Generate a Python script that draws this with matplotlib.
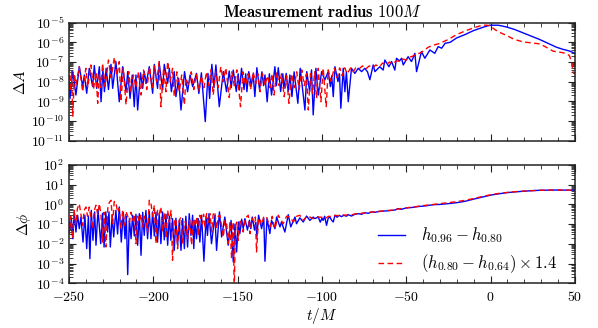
import numpy as np
import matplotlib
matplotlib.use("Agg")
import matplotlib.pyplot as plt
from matplotlib.ticker import FixedLocator, FixedFormatter, LogLocator, MultipleLocator

plt.rcParams['mathtext.fontset'] = 'cm'

# ---------------- data (t/M, log10 value) ----------------
dA_blue = [(-250.0,-8.0),(-249.4,-8.85),(-247.8,-7.49),(-245.9,-8.68),(-243.9,-7.24),(-241.9,-8.25),(-240.9,-7.66),(-239.5,-8.59),(-238.0,-7.32),(-236.0,-8.25),(-235.0,-7.18),(-233.6,-8.34),(-232.0,-7.24),(-231.0,-9.02),(-229.9,-7.40),(-229.0,-8.51),(-228.0,-7.32),(-226.6,-8.40),(-225.1,-7.12),(-224.1,-8.34),(-222.2,-6.98),(-220.2,-9.02),(-218.2,-7.24),(-216.2,-8.51),(-215.2,-7.49),(-213.8,-8.85),(-212.5,-7.66),(-211.3,-9.27),(-210.3,-7.66),(-209.3,-9.44),(-207.6,-7.55),(-206.3,-8.34),(-205.4,-7.49),(-204.2,-8.08),(-202.4,-7.24),(-200.4,-8.59),(-199.4,-7.12),(-197.5,-8.34),(-196.5,-7.07),(-194.5,-8.42),(-193.5,-7.12),(-191.5,-8.08),(-190.5,-7.32),(-189.3,-8.51),(-187.6,-7.49),(-186.6,-8.76),(-185.0,-7.83),(-183.6,-9.44),(-181.5,-7.49),(-179.7,-8.51),(-178.2,-7.66),(-176.7,-8.25),(-174.4,-7.58),(-173.0,-8.6),(-171.5,-7.55),(-169.2,-10.03),(-167.6,-7.58),(-166.6,-8.85),(-165.3,-7.12),(-164.0,-8.3),(-162.9,-7.15),(-160.9,-9.27),(-158.5,-7.49),(-156.6,-8.51),(-155.0,-7.46),(-153.8,-8.3),(-152.6,-7.41),(-150.8,-8.5),(-149.7,-7.6),(-148.9,-8.42),(-147.7,-7.32),(-146.2,-8.4),(-145.2,-7.6),(-144.5,-8.51),(-143.4,-7.49),(-141.9,-8.2),(-140.8,-7.6),(-139.8,-8.76),(-138.6,-7.29),(-137.0,-8.4),(-135.6,-7.5),(-134.6,-8.2),(-133.8,-7.66),(-132.5,-9.02),(-131.2,-7.6),(-129.9,-8.68),(-127.9,-7.24),(-127.0,-8.2),(-125.9,-7.29),(-124.5,-8.5),(-123.2,-7.6),(-122.6,-8.34),(-121.2,-7.58),(-120.0,-8.5),(-119.0,-7.66),(-117.8,-8.76),(-116.5,-7.5),(-114.3,-9.10),(-112.9,-7.32),(-110.1,-9.44),(-109.0,-7.49),(-107.3,-8.5),(-106.2,-7.4),(-105.2,-9.69),(-103.6,-7.32),(-102.2,-8.68),(-100.2,-7.49),(-98.3,-7.91),(-96.3,-7.49),(-95.0,-8.25),(-94.2,-7.7),(-93.3,-8.76),(-92.3,-7.24),(-90.5,-8.0),(-89.6,-7.6),(-88.8,-9.35),(-87.4,-7.32),(-86.4,-8.51),(-85.5,-7.5),(-84.4,-9.02),(-82.5,-7.32),(-80.5,-7.58),(-78.5,-7.32),(-76.5,-7.49),(-74.6,-7.32),(-73.0,-7.5),(-71.6,-7.9),(-69.6,-7.15),(-68.6,-7.49),(-65.7,-7.24),(-63.7,-7.41),(-62.7,-6.9),(-60.3,-7.24),(-58.7,-6.98),(-56.8,-7.41),(-55.8,-6.81),(-54.0,-6.95),(-52.8,-6.81),(-51.8,-7.15),(-48.9,-6.73),(-46.9,-6.98),(-44.9,-6.56),(-43.9,-7.49),(-41.0,-6.47),(-39.0,-6.81),(-36.0,-6.39),(-33.1,-6.56),(-31.1,-6.22),(-29.0,-6.3),(-27.0,-6.05),(-24.0,-6.0),(-20.2,-5.78),(-15.0,-5.6),(-10.3,-5.41),(-5.0,-5.25),(-0.5,-5.13),(4.5,-5.13),(9.4,-5.22),(14.3,-5.35),(19.3,-5.52),(24.2,-5.69),(29.2,-5.86),(34.1,-6.05),(39.1,-6.25),(43.0,-6.36),(45.0,-6.40),(47.0,-6.45),(50.0,-6.56)]

dA_red = [(-250.0,-7.2),(-249.3,-8.5),(-248.5,-7.5),(-247.8,-9.78),(-246.8,-7.6),(-245.9,-8.17),(-243.9,-7.24),(-241.9,-8.51),(-240.0,-7.32),(-238.9,-8.3),(-237.0,-7.15),(-235.5,-8.4),(-234.0,-7.5),(-233.0,-9.10),(-232.0,-7.6),(-231.0,-8.3),(-230.1,-7.07),(-228.6,-8.25),(-226.6,-6.90),(-225.0,-7.8),(-223.1,-6.76),(-221.6,-7.7),(-220.2,-6.98),(-219.2,-9.02),(-217.8,-7.3),(-216.2,-9.18),(-214.6,-7.49),(-213.3,-8.51),(-211.8,-7.66),(-210.3,-8.3),(-208.8,-7.5),(-207.3,-8.68),(-205.8,-7.41),(-203.9,-8.4),(-202.2,-7.24),(-200.8,-8.3),(-199.4,-7.2),(-198.0,-8.0),(-196.5,-6.98),(-195.5,-9.27),(-193.9,-7.3),(-192.5,-8.51),(-191.5,-6.98),(-190.0,-8.0),(-188.6,-7.32),(-187.6,-8.76),(-186.0,-7.5),(-184.6,-8.51),(-183.2,-7.66),(-181.6,-9.18),(-180.7,-7.83),(-179.0,-8.2),(-177.5,-7.5),(-176.0,-8.4),(-174.5,-7.6),(-173.0,-8.5),(-171.5,-7.7),(-170.0,-8.3),(-168.5,-7.5),(-167.0,-8.2),(-165.8,-7.4),(-164.5,-8.68),(-163.0,-7.5),(-161.5,-8.3),(-160.0,-7.24),(-158.5,-8.0),(-157.0,-7.3),(-155.0,-8.8),(-153.5,-7.5),(-152.0,-8.2),(-150.5,-7.4),(-148.3,-9.27),(-146.8,-7.5),(-145.3,-8.2),(-143.8,-7.6),(-142.3,-8.4),(-140.8,-7.5),(-139.3,-8.1),(-138.0,-7.6),(-136.8,-8.51),(-135.3,-7.6),(-133.8,-8.2),(-132.3,-7.7),(-130.8,-8.3),(-129.5,-7.6),(-128.4,-8.68),(-126.9,-7.5),(-125.4,-8.2),(-124.0,-7.6),(-122.4,-8.76),(-121.0,-7.7),(-119.6,-9.10),(-118.0,-7.6),(-116.5,-8.3),(-115.0,-7.5),(-113.5,-8.4),(-112.0,-7.4),(-110.5,-8.2),(-109.2,-7.6),(-108.1,-9.44),(-106.8,-7.6),(-105.6,-8.6),(-104.3,-7.5),(-103.2,-8.85),(-102.2,-7.32),(-100.6,-9.02),(-99.3,-7.32),(-97.5,-9.27),(-96.3,-7.4),(-94.5,-8.0),(-92.8,-7.3),(-91.0,-7.8),(-89.5,-7.3),(-88.0,-7.7),(-86.5,-7.3),(-85.0,-7.6),(-83.0,-7.3),(-81.5,-7.5),(-80.0,-7.3),(-78.0,-7.35),(-76.0,-7.2),(-74.0,-7.35),(-72.0,-7.2),(-70.0,-7.3),(-68.0,-7.15),(-66.0,-7.25),(-64.0,-7.05),(-62.0,-7.15),(-60.0,-7.0),(-58.0,-7.1),(-56.0,-6.95),(-54.0,-6.95),(-52.0,-6.85),(-50.0,-6.9),(-48.0,-6.75),(-46.0,-6.7),(-44.0,-6.6),(-42.0,-6.55),(-40.0,-6.45),(-37.0,-6.25),(-34.0,-6.15),(-30.0,-6.05),(-25.0,-5.85),(-20.2,-5.61),(-15.0,-5.42),(-10.3,-5.27),(-6.0,-5.16),(-4.5,-5.13),(-2.0,-5.13),(0.0,-5.18),(2.5,-5.35),(5.0,-5.48),(9.4,-5.65),(14.0,-5.85),(19.3,-5.98),(24.0,-6.03),(29.2,-6.08),(33.0,-6.25),(37.1,-6.45),(43.0,-6.53),(46.6,-6.66),(48.0,-6.96),(49.0,-7.56),(50.0,-7.6)]

dphi_blue = [(-250.0,-0.9),(-249.3,-1.23),(-248.6,-0.72),(-247.8,-1.74),(-246.9,-0.38),(-245.9,-1.40),(-244.9,-0.55),(-243.9,-1.23),(-242.9,-0.64),(-241.7,-1.91),(-240.6,-0.55),(-239.5,-2.24),(-238.5,-0.60),(-237.6,-2.75),(-236.8,-0.30),(-235.8,-1.82),(-234.8,-0.38),(-234.0,-2.07),(-232.8,-0.25),(-231.2,-1.99),(-230.1,-0.45),(-229.2,-2.16),(-228.2,-0.38),(-227.1,-1.40),(-226.3,-0.38),(-225.5,-2.16),(-224.4,-0.55),(-223.5,-1.65),(-222.2,-0.30),(-221.2,-1.5),(-220.2,-0.13),(-219.0,-1.91),(-217.8,-0.4),(-216.8,-1.74),(-216.0,-0.6),(-215.2,-3.56),(-214.2,-0.72),(-213.2,-1.74),(-212.3,-0.55),(-211.3,-1.6),(-210.3,-0.5),(-209.3,-2.07),(-208.3,-0.47),(-207.3,-2.58),(-206.3,-0.4),(-205.4,-1.57),(-204.4,-0.30),(-203.4,-1.74),(-202.4,-0.35),(-201.4,-1.74),(-200.4,-0.38),(-199.4,-1.6),(-198.4,-0.4),(-197.5,-1.91),(-196.5,-0.47),(-195.5,-1.99),(-194.5,-0.38),(-193.5,-1.8),(-192.5,-0.5),(-191.5,-2.07),(-190.5,-0.6),(-189.6,-1.82),(-188.6,-0.72),(-187.6,-2.33),(-186.6,-0.7),(-185.6,-2.07),(-184.6,-0.81),(-183.6,-2.33),(-182.6,-0.72),(-181.6,-2.24),(-180.7,-0.6),(-179.7,-2.16),(-178.7,-0.47),(-177.7,-1.57),(-176.7,-0.55),(-176.0,-2.24),(-175.3,-0.8),(-174.4,-1.74),(-173.4,-0.72),(-172.4,-1.91),(-171.4,-0.55),(-170.0,-2.88),(-168.7,-0.6),(-167.9,-1.57),(-167.0,-0.47),(-165.5,-1.99),(-163.5,-0.55),(-162.5,-2.33),(-160.8,-0.38),(-159.5,-1.65),(-157.6,-0.64),(-155.6,-2.07),(-153.9,-0.81),(-152.6,-2.92),(-151.6,-1.0),(-150.6,-2.41),(-149.6,-0.89),(-148.7,-1.48),(-147.6,-0.75),(-146.7,-1.23),(-145.7,-0.72),(-144.2,-1.3),(-143.0,-0.8),(-142.2,-1.23),(-141.3,-0.64),(-140.0,-1.3),(-139.2,-0.9),(-138.6,-1.65),(-137.6,-0.55),(-135.8,-1.23),(-134.5,-0.7),(-133.8,-2.88),(-132.6,-0.72),(-130.9,-1.48),(-129.9,-0.81),(-127.9,-1.23),(-126.9,-0.64),(-124.9,-1.14),(-124.0,-0.89),(-122.0,-1.40),(-120.0,-0.52),(-118.5,-1.14),(-116.0,-0.64),(-115.1,-0.98),(-113.1,-0.68),(-111.1,-0.89),(-109.1,-0.59),(-107.2,-0.81),(-105.2,-0.64),(-104.2,-0.72),(-102.2,-0.64),(-101.0,-0.9),(-100.0,-0.7),(-99.3,-0.81),(-98.4,-0.6),(-97.3,-1.06),(-96.3,-0.7),(-95.3,-0.64),(-94.3,-0.8),(-93.3,-0.89),(-92.3,-0.55),(-91.0,-0.65),(-89.8,-0.55),(-88.4,-0.62),(-87.0,-0.55),(-85.5,-0.6),(-84.4,-0.52),(-82.5,-0.59),(-80.5,-0.5),(-78.5,-0.47),(-76.5,-0.5),(-74.6,-0.42),(-72.5,-0.45),(-70.6,-0.38),(-68.5,-0.4),(-66.5,-0.36),(-64.7,-0.35),(-62.5,-0.33),(-60.5,-0.32),(-58.7,-0.30),(-56.5,-0.28),(-54.8,-0.21),(-53.0,-0.25),(-51.0,-0.2),(-48.9,-0.17),(-47.0,-0.16),(-44.9,-0.13),(-42.0,-0.1),(-39.0,-0.08),(-36.0,-0.04),(-33.1,-0.01),(-30.0,0.0),(-25.0,0.04),(-20.0,0.09),(-15.0,0.16),(-10.0,0.27),(-5.0,0.37),(0.0,0.47),(5.0,0.54),(10.0,0.6),(15.0,0.64),(20.0,0.67),(25.0,0.7),(30.0,0.72),(40.0,0.73),(50.0,0.72)]

dphi_red = [(-250.0,-0.8),(-249.8,-1.48),(-249.0,-0.6),(-247.8,-1.74),(-247.0,-0.3),(-246.0,-1.0),(-245.0,-0.2),(-243.9,0.03),(-242.9,-0.5),(-241.9,-1.06),(-241.0,-0.3),(-240.0,-0.13),(-239.0,-0.6),(-238.0,-0.13),(-237.0,-0.7),(-236.0,-1.23),(-235.0,-0.3),(-234.0,-0.04),(-233.0,-0.5),(-232.0,0.04),(-231.0,-0.6),(-230.1,-1.91),(-229.2,-0.4),(-228.1,-2.16),(-227.0,-0.2),(-226.1,0.1),(-225.1,0.21),(-224.1,-0.98),(-223.2,0.15),(-222.2,0.12),(-221.2,-0.4),(-220.2,-0.2),(-219.2,-1.23),(-218.2,-0.3),(-217.2,-1.06),(-216.2,-0.35),(-215.2,-0.6),(-214.2,-0.89),(-213.2,-0.4),(-212.2,-0.8),(-211.2,-0.5),(-210.3,-1.99),(-209.3,-0.6),(-208.3,-0.9),(-207.3,-0.5),(-206.3,-1.14),(-205.3,-0.6),(-204.4,-0.9),(-203.4,-1.40),(-202.4,0.21),(-201.4,0.05),(-200.4,-0.6),(-199.4,-0.04),(-198.4,-1.99),(-197.5,-0.3),(-196.5,-0.5),(-195.5,-0.13),(-194.5,-1.40),(-193.5,-0.4),(-192.5,-1.74),(-191.5,-0.30),(-190.5,-0.9),(-189.5,-0.30),(-188.6,-2.83),(-187.6,-0.9),(-186.6,-0.72),(-185.6,-2.24),(-184.6,-0.8),(-183.6,-0.64),(-182.6,-1.99),(-181.6,-0.9),(-180.7,-0.89),(-179.7,-1.74),(-178.5,-0.8),(-177.3,-2.07),(-176.3,-0.72),(-174.9,-1.1),(-174.0,-0.6),(-173.4,-1.57),(-172.4,-0.55),(-171.0,-1.0),(-170.2,-0.5),(-169.4,-1.23),(-168.4,-0.47),(-167.4,-0.9),(-166.4,-0.47),(-165.4,-1.40),(-164.5,-0.5),(-163.5,-0.38),(-162.5,-1.23),(-161.5,-0.6),(-160.5,-0.55),(-159.5,-1.1),(-158.5,-1.65),(-157.5,-0.8),(-156.5,-1.0),(-155.6,-1.99),(-154.6,-0.9),(-153.6,-2.75),(-152.6,-0.89),(-152.0,-4.5),(-151.4,-1.2),(-150.6,-0.9),(-149.6,-1.82),(-148.7,-0.76),(-147.7,-1.0),(-146.7,-1.40),(-145.5,-0.7),(-143.7,-0.55),(-142.7,-1.48),(-141.5,-0.7),(-140.3,-0.9),(-139.5,-0.64),(-138.8,-2.41),(-137.6,-0.7),(-136.5,-0.8),(-135.8,-1.06),(-134.5,-0.6),(-132.8,-0.64),(-130.9,-1.14),(-129.5,-0.6),(-127.9,-1.23),(-125.9,-0.55),(-123.0,-0.98),(-121.0,-0.6),(-119.0,-0.64),(-117.0,-0.89),(-115.0,-0.6),(-113.1,-0.55),(-111.1,-0.81),(-109.0,-0.6),(-107.2,-0.64),(-105.2,-0.72),(-103.5,-0.6),(-102.2,-0.64),(-100.0,-0.65),(-98.0,-0.7),(-96.0,-0.6),(-94.0,-0.62),(-92.0,-0.55),(-90.0,-0.58),(-88.0,-0.52),(-86.0,-0.55),(-84.0,-0.5),(-82.0,-0.52),(-80.0,-0.47),(-78.0,-0.48),(-76.0,-0.44),(-74.0,-0.43),(-72.0,-0.4),(-70.0,-0.38),(-68.0,-0.38),(-66.0,-0.35),(-64.0,-0.33),(-62.0,-0.32),(-60.0,-0.30),(-58.0,-0.29),(-56.0,-0.25),(-54.0,-0.22),(-52.0,-0.2),(-50.0,-0.18),(-48.0,-0.15),(-46.0,-0.13),(-44.0,-0.11),(-42.0,-0.08),(-40.0,-0.06),(-37.0,-0.03),(-34.0,0.0),(-31.0,0.03),(-28.0,0.06),(-25.0,0.09),(-20.0,0.14),(-15.0,0.21),(-10.0,0.3),(-5.0,0.4),(0.0,0.49),(5.0,0.56),(10.0,0.61),(15.0,0.65),(20.0,0.68),(25.0,0.7),(30.0,0.72),(40.0,0.73),(50.0,0.72)]

x_ticks = [-250, -200, -150, -100, -50, 0, 50]
x_tick_labels = [r'$-250$', r'$-200$', r'$-150$', r'$-100$', r'$-50$', r'$0$', r'$50$']
top_exps = [-11, -10, -9, -8, -7, -6, -5]
bot_exps = [-4, -3, -2, -1, 0, 1, 2]
legend_labels = [r'$h_{0.96} - h_{0.80}$', r'$(h_{0.80} - h_{0.64}) \times 1.4$']
title = r'$\mathbf{Measurement\ radius}\ 100M$'


def series(pairs):
    a = np.array(pairs, dtype=float)
    return a[:, 0], 10.0 ** a[:, 1]


fig = plt.figure(figsize=(5.98, 3.28), dpi=100)
ax1 = fig.add_axes([0.1154, 0.571, 0.846, 0.36])
ax2 = fig.add_axes([0.1154, 0.1363, 0.846, 0.3607])

BLUE = '#0000ff'
RED = '#ff0000'
LW = 1.0

for ax, blue, red, exps in ((ax1, dA_blue, dA_red, top_exps),
                            (ax2, dphi_blue, dphi_red, bot_exps)):
    tb, vb = series(blue)
    tr, vr = series(red)
    ax.plot(tb, vb, color=BLUE, lw=LW, ls='-', label=legend_labels[0])
    ax.plot(tr, vr, color=RED, lw=LW, ls='--', dashes=(4, 2.5), label=legend_labels[1])
    ax.set_yscale('log')
    ax.set_xlim(-250, 50)
    ax.set_ylim(10.0 ** exps[0], 10.0 ** exps[-1])
    ax.yaxis.set_major_locator(FixedLocator([10.0 ** e for e in exps]))
    ax.yaxis.set_major_formatter(FixedFormatter([r'$10^{%d}$' % e for e in exps]))
    ax.yaxis.set_minor_locator(LogLocator(base=10, subs=np.arange(2, 10), numticks=20))
    ax.xaxis.set_major_locator(FixedLocator(x_ticks))
    ax.xaxis.set_minor_locator(MultipleLocator(10))
    ax.tick_params(which='both', direction='in', top=True, right=True, labelsize=10, color='#222222')
    ax.tick_params(which='major', length=5, width=0.8)
    ax.tick_params(which='minor', length=2.8, width=0.6)
    for s in ax.spines.values():
        s.set_linewidth(1.1)
        s.set_color('#222222')

ax1.set_xticklabels([])
ax2.xaxis.set_major_formatter(FixedFormatter(x_tick_labels))
ax2.tick_params(axis='x', which='major', pad=5)

ax1.set_ylabel(r'$\Delta A$', fontsize=11, labelpad=2)
ax2.set_ylabel(r'$\Delta\phi$', fontsize=11, labelpad=2)
ax2.set_xlabel(r'$t/M$', fontsize=11, labelpad=1)
ax1.set_title(title, fontsize=12, pad=4)

ax2.legend(loc='lower right', bbox_to_anchor=(0.995, -0.06), frameon=False, fontsize=12,
           handlelength=1.6, handletextpad=1.0, labelspacing=0.45)

fig.savefig('out.png', dpi=100)
